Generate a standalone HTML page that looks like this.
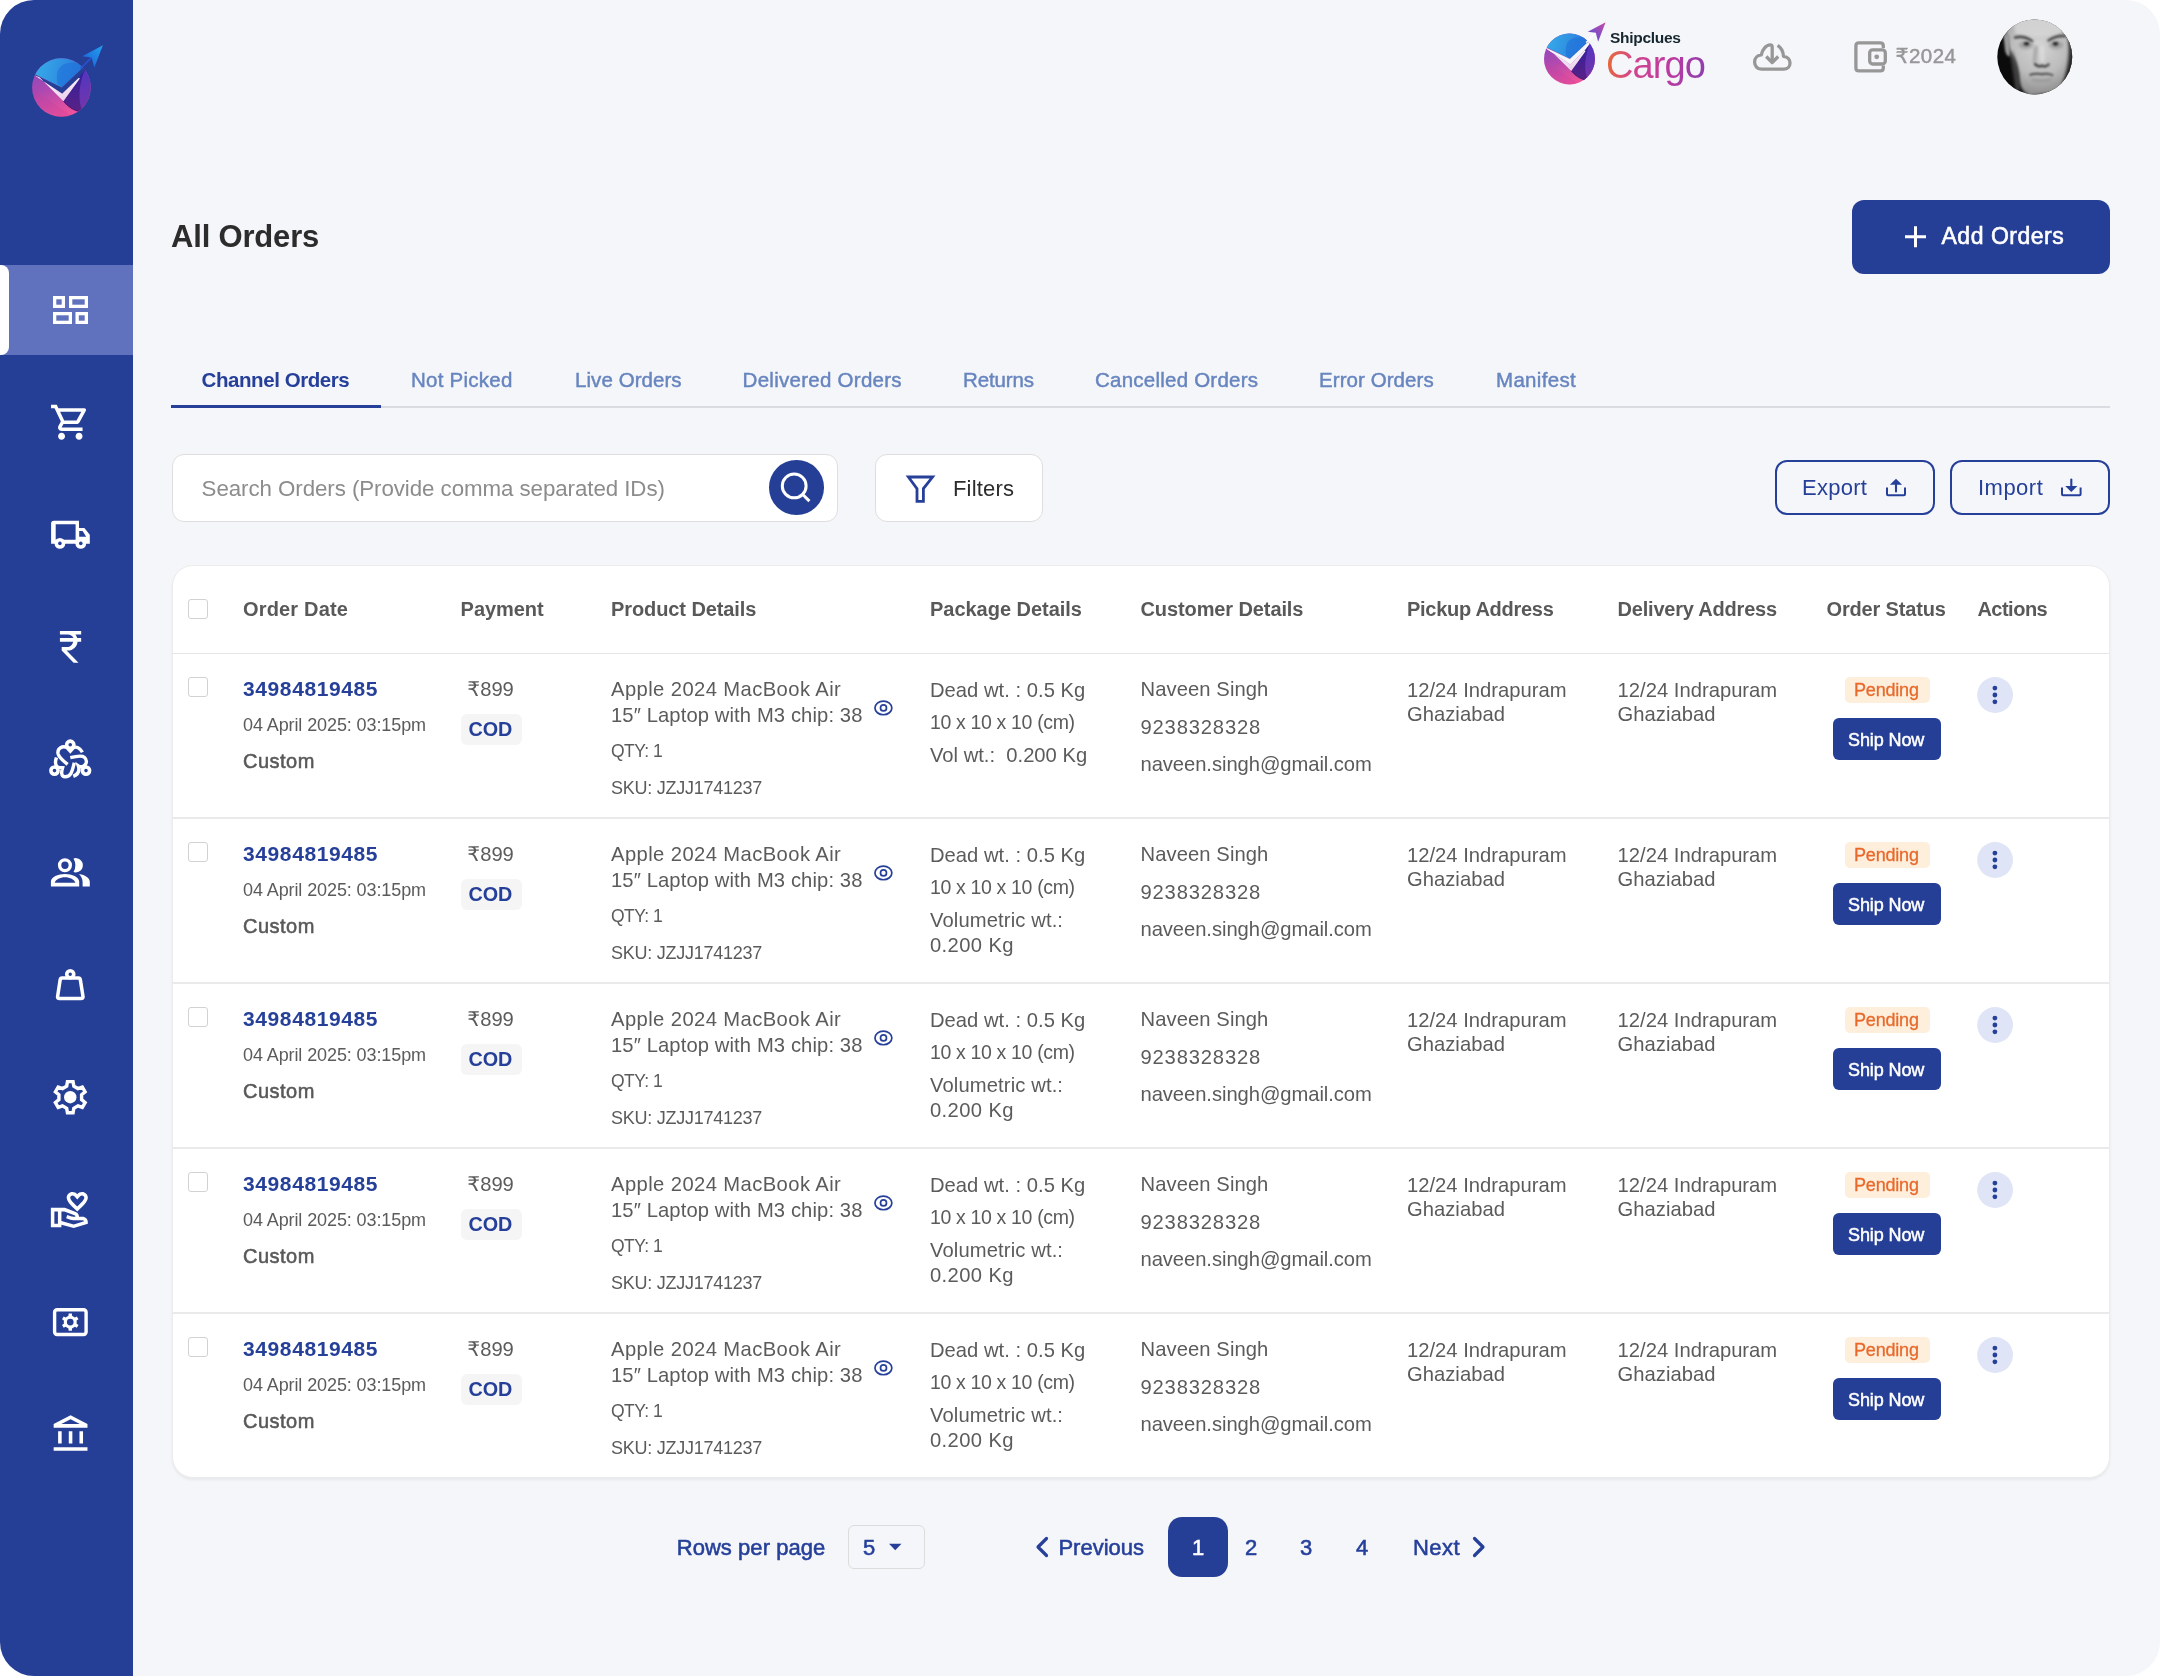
<!DOCTYPE html><html><head><meta charset="utf-8"><title>All Orders</title><style>
*{margin:0;padding:0;box-sizing:border-box}
html,body{width:2160px;height:1676px;background:#ffffff;overflow:hidden}
body{font-family:"Liberation Sans",Arial,"DejaVu Sans",sans-serif;-webkit-font-smoothing:antialiased}
.frame{will-change:transform;position:absolute;left:0;top:0;width:2160px;height:1676px;border-radius:34px;overflow:hidden;background:#F5F6FA}
.t{position:absolute;white-space:nowrap}
.sb{position:absolute;left:0;top:0}
.box{position:absolute}
.rupee{font-family:"DejaVu Sans",sans-serif}
</style></head><body><div class="frame">
<div class="box" style="left:0;top:0;width:133px;height:1676px;background:#263F96"></div>
<div class="box" style="left:0;top:265px;width:133px;height:90px;background:#6072BD"></div>
<div class="box" style="left:0;top:265px;width:9px;height:90px;background:#ffffff;border-radius:0 8px 8px 0"></div>
<svg class="sb" width="133" height="1676" viewBox="0 0 133 1676">
<rect x="54.65" y="297.65" width="8.7" height="8.7" fill="none" stroke="#ffffff" stroke-width="3.3"/>
<rect x="70.65" y="297.65" width="15.7" height="8.7" fill="none" stroke="#ffffff" stroke-width="3.3"/>
<rect x="54.65" y="313.65" width="15.7" height="8.7" fill="none" stroke="#ffffff" stroke-width="3.3"/>
<rect x="77.15" y="313.65" width="9.2" height="8.7" fill="none" stroke="#ffffff" stroke-width="3.3"/>
<g transform="translate(49.3,401.2) scale(1.75)"><path fill="#ffffff" d="M15.55 13c.75 0 1.41-.41 1.75-1.03l3.58-6.49c.37-.66-.11-1.48-.87-1.48H5.21l-.94-2H1v2h2l3.6 7.59-1.35 2.44C4.52 15.37 5.48 17 7 17h12v-2H7l1.1-2h7.45zM6.16 6h12.15l-2.76 5H8.53L6.16 6zM7 18c-1.1 0-1.99.9-1.99 2S5.9 22 7 22s2-.9 2-2-.9-2-2-2zm10 0c-1.1 0-1.99.9-1.99 2s.89 2 1.99 2 2-.9 2-2-.9-2-2-2z"/></g>
<path fill="#ffffff" fill-rule="evenodd" d="M51.1,523.6 Q51.1,520.75 53.9,520.75 H79 V527.9 H84.4 L89.8,534.7 V543.7 H51.1 Z M55.7,524.3 H75.6 V539.7 H55.7 Z M79.2,531.1 H82.6 L86.2,536.7 H79.2 Z"/>
<circle cx="59.9" cy="543.4" r="5.4" fill="#ffffff"/>
<circle cx="59.9" cy="543.4" r="1.8" fill="#26409A"/>
<circle cx="80.8" cy="543.4" r="5.4" fill="#ffffff"/>
<circle cx="80.8" cy="543.4" r="1.8" fill="#26409A"/>
<g transform="translate(49.3,625.7) scale(1.77)"><path fill="#ffffff" d="M13.66 7c-.56-1.18-1.76-2-3.16-2H6V3h12v2h-3.26c.48.58.84 1.26 1.05 2H18v2h-2.02c-.25 2.8-2.61 5-5.48 5h-.73l6.73 7h-2.77l-6.73-7V12h3c1.76 0 3.22-1.3 3.46-3H6V7h7.66z"/></g>
<g fill="none" stroke="#fff" stroke-width="3.4" stroke-linecap="butt"><path d="M82.4,752.2 C80,747.5 76,746.4 73.5,747.6 L70.3,751.2 L67,747.6 C62.5,745.3 57.3,748.2 58,753.4 C58.5,756.5 61.5,759.5 67.6,764.3"/><path d="M70.3,757.6 C75.5,756.3 81.5,754.8 84.3,757.2 C87.6,760 86.8,764.5 83.2,766.2 C81.5,767 79.5,766.6 78.3,765.8 C79.5,769.5 79.3,774 73.3,776.3"/><path d="M74.3,762.8 C72.2,770.5 71.5,776.8 65.2,776.8 C60.5,776.8 61.5,771.3 62.6,767.8 C58.5,767.7 55.5,767.2 55.5,762.5 C55.5,759.8 56.2,758.5 56.5,757.5"/></g>
<circle cx="70.25" cy="744.7" r="3.6" fill="none" stroke="#ffffff" stroke-width="3.6"/>
<circle cx="54.5" cy="770.6" r="3.6" fill="none" stroke="#ffffff" stroke-width="3.6"/>
<circle cx="86" cy="770.6" r="3.6" fill="none" stroke="#ffffff" stroke-width="3.6"/>
<path fill="#ffffff" d="M73.5,858.45 A7.15,7.15 0 1 1 73.5,872.05 A13.8,13.8 0 0 0 73.5,858.45 Z"/>
<circle cx="64.95" cy="865.25" r="5.35" fill="none" stroke="#ffffff" stroke-width="3.4"/>
<path fill="#ffffff" fill-rule="evenodd" d="M50.9,886.4 V881.5 C50.9,877 58,874 65,874 C72,874 79.2,877 79.2,881.5 V886.4 Z M54.7,882.8 C55.5,879.6 60,877.2 65,877.2 C70,877.2 74.5,879.6 75.4,882.8 Z"/>
<path fill="#ffffff" d="M79,874 C85.5,875 89.8,878 89.8,882 V886.4 H82.6 V882 C82.6,879 81.2,876 79,874 Z"/>
<circle cx="70.25" cy="974.3" r="3.5" fill="none" stroke="#ffffff" stroke-width="3.6"/>
<path fill="none" stroke="#ffffff" stroke-width="3.5" stroke-linejoin="round" d="M62,977.9 H78.5 Q80,977.9 80.3,979.5 L83,996.5 Q83.3,998.6 81,998.6 H59.5 Q57.3,998.6 57.6,996.5 L60.2,979.5 Q60.5,977.9 62,977.9 Z"/>
<path fill="none" stroke="#ffffff" stroke-width="3.4" stroke-linejoin="miter" d="M66.67,1086.17 L67.45,1081.65 L73.05,1081.65 L73.83,1086.17 L78.01,1088.58 L82.32,1087.00 L85.12,1091.85 L81.60,1094.79 L81.60,1099.61 L85.12,1102.55 L82.32,1107.40 L78.01,1105.82 L73.83,1108.23 L73.05,1112.75 L67.45,1112.75 L66.67,1108.23 L62.49,1105.82 L58.18,1107.40 L55.38,1102.55 L58.90,1099.61 L58.90,1094.79 L55.38,1091.85 L58.18,1087.00 L62.49,1088.58 Z"/>
<circle cx="70.25" cy="1097.2" r="6.2" fill="#ffffff"/>
<g transform="translate(49.1,1188.5) scale(1.76)"><path fill="#ffffff" d="M16 13c3.09-2.81 6-5.44 6-7.7C22 3.45 20.55 2 18.7 2c-1.04 0-2.05.49-2.7 1.25C15.34 2.49 14.34 2 13.3 2 11.45 2 10 3.45 10 5.3c0 2.26 2.91 4.89 6 7.7zm-2.7-9c.44 0 .89.21 1.18.55L16 6.29l1.52-1.74c.29-.34.74-.55 1.18-.55.74 0 1.3.56 1.3 1.3 0 1.12-2.04 3.17-4 4.99-1.96-1.82-4-3.88-4-4.99 0-.74.56-1.3 1.3-1.3zM19 16h-2c0-1.2-.75-2.28-1.87-2.7L8.97 11H1v11h6v-1.44l7 1.94 8-2.5v-1c0-1.66-1.34-3-3-3zM3 20v-7h2v7H3zm10.97.41L7 18.48V13h1.61l5.82 2.17c.34.13.57.46.57.83 0 0-1.99-.05-2.3-.15l-2.38-.79-.63 1.9 2.38.79c.51.17 1.04.26 1.58.26H19c.39 0 .74.23.9.56l-5.93 1.84z"/></g>
<rect x="54.6" y="1309.8" width="31.5" height="24.7" rx="2.5" fill="none" stroke="#ffffff" stroke-width="3.4"/>
<path fill="#ffffff" fill-rule="evenodd" d="M68.48,1315.74 L68.62,1313.55 L71.88,1313.55 L72.02,1315.74 L74.87,1317.38 L76.84,1316.42 L78.47,1319.24 L76.64,1320.46 L76.64,1323.74 L78.47,1324.96 L76.84,1327.78 L74.87,1326.82 L72.02,1328.46 L71.88,1330.65 L68.62,1330.65 L68.48,1328.46 L65.63,1326.82 L63.66,1327.78 L62.03,1324.96 L63.86,1323.74 L63.86,1320.46 L62.03,1319.24 L63.66,1316.42 L65.63,1317.38 Z M73.6,1322.1 A3.35,3.35 0 1 0 66.9,1322.1 A3.35,3.35 0 1 0 73.6,1322.1 Z"/>
<g transform="translate(50.1,1413.5) scale(1.78 1.77)"><path fill="#ffffff" d="M6.5 10h-2v7h2v-7zm6 0h-2v7h2v-7zm8.5 9H2v2h19v-2zm-2.5-9h-2v7h2v-7zm-7-6.74L16.71 6H6.29l5.21-2.74m0-2.26L2 6v2h19V6l-9.5-5z"/></g>
</svg>
<svg style="position:absolute;left:25px;top:38px" width="85" height="85" viewBox="25 38 85 85">
<defs>
<clipPath id="lg1c"><circle cx="61.4" cy="87.5" r="29.3"/></clipPath>
<linearGradient id="lg1lo" x1="0" y1="0" x2="0.45" y2="1"><stop offset="0" stop-color="#7a48c6"/><stop offset="0.5" stop-color="#a948b2"/><stop offset="1" stop-color="#f0529a"/></linearGradient>
<linearGradient id="lg1up" x1="0" y1="0.4" x2="1" y2="0.6"><stop offset="0" stop-color="#38b4ec"/><stop offset="0.55" stop-color="#2f8de0"/><stop offset="1" stop-color="#2a6fd6"/></linearGradient>
<linearGradient id="lg1rt" x1="0" y1="0" x2="0" y2="1"><stop offset="0" stop-color="#4536c8"/><stop offset="1" stop-color="#7a35a6"/></linearGradient>
<linearGradient id="lg1wg" x1="0" y1="0" x2="0" y2="1"><stop offset="0" stop-color="#2a1ea6"/><stop offset="1" stop-color="#5a2284"/></linearGradient>
<linearGradient id="lg1ar" x1="0" y1="1" x2="1" y2="0"><stop offset="0" stop-color="#1c5ad6"/><stop offset="1" stop-color="#22a3ef"/></linearGradient>
<linearGradient id="lg1wv" x1="0" y1="0" x2="0.2" y2="1"><stop offset="0" stop-color="#ffffff"/><stop offset="1" stop-color="#ead2ec"/></linearGradient>
</defs>
<g transform="translate(61.4,87.5) scale(1.0) translate(-61.4,-87.5)">
<g clip-path="url(#lg1c)">
<rect x="30" y="55" width="64" height="64" fill="url(#lg1lo)"/>
<path d="M30,88 L75,118 L60,120 L30,100 Z" fill="#c43c9c" opacity="0.25"/>
<polygon points="28,40 28,74.2 35.8,74.4 61.8,87.6 88.2,62.8 96,55 96,40" fill="url(#lg1up)"/>
<path d="M57.5,83.5 C55,70 60,63 72,62.5 L86,62 L86.5,64.5 L61.8,87.6 Z" fill="#1d6ed8" opacity="0.55"/>
<path d="M63.4,101.2 L88.2,62.8 L96,55 L96,118 L86,113 C76,112 69,108 63.4,101.2 Z" fill="url(#lg1rt)"/>
<path d="M63.4,101.2 L88.6,62.5 C83,72 79.5,84 79.5,96 C79.5,104 81,109 84,112 C76,112 69,108 63.4,101.2 Z" fill="url(#lg1wg)"/>
<path d="M63.4,101.2 C69,108 76,112 84,112" fill="none" stroke="#3c1460" stroke-width="1" opacity="0.6"/>
<polygon points="34,74.3 61.8,87.6 88.2,62.8 89.6,63.6 78.6,77.9 62.2,93.8 34,75.0" fill="#263F96"/>
<polygon points="34,75.0 62.2,93.8 78.6,77.9 80.0,78.2 63.4,101.2 39.7,77.6" fill="url(#lg1wv)"/>
</g>
<path d="M80.5,68.5 L92.4,56.6" stroke="#2a52d0" stroke-width="1.6"/>
<polygon points="102.9,45.2 82.4,56.3 91.6,57.4 94.3,67.6" fill="url(#lg1ar)"/>
</g></svg>
<svg style="position:absolute;left:1538px;top:18px" width="72" height="72" viewBox="1538 18 72 72">
<defs>
<clipPath id="lg2c"><circle cx="61.4" cy="87.5" r="29.3"/></clipPath>
<linearGradient id="lg2lo" x1="0" y1="0" x2="0.45" y2="1"><stop offset="0" stop-color="#7a48c6"/><stop offset="0.5" stop-color="#a948b2"/><stop offset="1" stop-color="#f0529a"/></linearGradient>
<linearGradient id="lg2up" x1="0" y1="0.4" x2="1" y2="0.6"><stop offset="0" stop-color="#38b4ec"/><stop offset="0.55" stop-color="#2f8de0"/><stop offset="1" stop-color="#2a6fd6"/></linearGradient>
<linearGradient id="lg2rt" x1="0" y1="0" x2="0" y2="1"><stop offset="0" stop-color="#4536c8"/><stop offset="1" stop-color="#7a35a6"/></linearGradient>
<linearGradient id="lg2wg" x1="0" y1="0" x2="0" y2="1"><stop offset="0" stop-color="#2a1ea6"/><stop offset="1" stop-color="#5a2284"/></linearGradient>
<linearGradient id="lg2ar" x1="0" y1="1" x2="1" y2="0"><stop offset="0" stop-color="#4a50d8"/><stop offset="1" stop-color="#c94aa8"/></linearGradient>
<linearGradient id="lg2wv" x1="0" y1="0" x2="0.2" y2="1"><stop offset="0" stop-color="#ffffff"/><stop offset="1" stop-color="#ead2ec"/></linearGradient>
</defs>
<g transform="translate(1569.5,59.0) scale(0.87) translate(-61.4,-87.5)">
<g clip-path="url(#lg2c)">
<rect x="30" y="55" width="64" height="64" fill="url(#lg2lo)"/>
<path d="M30,88 L75,118 L60,120 L30,100 Z" fill="#c43c9c" opacity="0.25"/>
<polygon points="28,40 28,74.2 35.8,74.4 61.8,87.6 88.2,62.8 96,55 96,40" fill="url(#lg2up)"/>
<path d="M57.5,83.5 C55,70 60,63 72,62.5 L86,62 L86.5,64.5 L61.8,87.6 Z" fill="#1d6ed8" opacity="0.55"/>
<path d="M63.4,101.2 L88.2,62.8 L96,55 L96,118 L86,113 C76,112 69,108 63.4,101.2 Z" fill="url(#lg2rt)"/>
<path d="M63.4,101.2 L88.6,62.5 C83,72 79.5,84 79.5,96 C79.5,104 81,109 84,112 C76,112 69,108 63.4,101.2 Z" fill="url(#lg2wg)"/>
<path d="M63.4,101.2 C69,108 76,112 84,112" fill="none" stroke="#3c1460" stroke-width="1" opacity="0.6"/>
<polygon points="34,74.3 61.8,87.6 88.2,62.8 89.6,63.6 78.6,77.9 62.2,93.8 34,75.0" fill="#F5F6FA"/>
<polygon points="34,75.0 62.2,93.8 78.6,77.9 80.0,78.2 63.4,101.2 39.7,77.6" fill="url(#lg2wv)"/>
</g>
<path d="M80.5,68.5 L92.4,56.6" stroke="#ffffff" stroke-width="1.6"/>
<polygon points="102.9,45.2 82.4,56.3 91.6,57.4 94.3,67.6" fill="url(#lg2ar)"/>
</g></svg>
<div class="t" style="left:1610.00px;top:29.88px;font-size:15.5px;line-height:15.5px;color:#15262e;font-weight:700;letter-spacing:-0.284px;">Shipclues</div>
<div class="t" style="left:1606.00px;top:38.83px;font-size:38px;line-height:52px;color:#c0399f;letter-spacing:-0.91px;background:linear-gradient(100deg,#ec6f2a 0%,#d0458f 30%,#c0399f 60%,#8a3fb0 100%);-webkit-background-clip:text;background-clip:text;-webkit-text-fill-color:transparent;">Cargo</div>
<svg style="position:absolute;left:1748px;top:38px" width="48" height="38" viewBox="1748 38 48 38"><g fill="none" stroke="#979797" stroke-width="3.3" stroke-linejoin="round"><path d="M1777.6,45.4 C1781.2,47.6 1783.2,51.5 1783.5,56.3 C1787.2,56.6 1790,59.5 1790,63.2 C1790,66.9 1787.2,69.2 1783.8,69.2 H1761.5 C1757.3,69.2 1754.6,65.8 1754.6,62 C1754.6,58 1757.5,55.2 1761.3,54.9 C1762.3,49.5 1766.2,44.9 1770.2,44.9 C1771.5,44.9 1772.2,45.7 1772.2,47.2 V62.3"/><path d="M1766.2,56.5 L1772.2,62.5 L1778.2,56.5"/></g></svg>
<svg style="position:absolute;left:1850px;top:38px" width="42" height="38" viewBox="1850 38 42 38"><g fill="none" stroke="#979797" stroke-width="3.3"><path d="M1883.3,48.1 V45.9 Q1883.3,42.9 1880.3,42.9 H1858.9 Q1855.9,42.9 1855.9,45.9 V67.9 Q1855.9,70.9 1858.9,70.9 H1880.3 Q1883.3,70.9 1883.3,67.9 V65.6"/><rect x="1869.7" y="49.8" width="15.6" height="14.2" rx="3"/></g><circle cx="1876.7" cy="56.8" r="2.4" fill="#979797"/></svg>
<div class="t" style="left:1895.60px;top:46.05px;font-size:20.5px;line-height:20.5px;color:#979797;-webkit-text-stroke:0.45px #979797;letter-spacing:0.4px;"><span class="rupee">₹</span>2024</div>
<svg style="position:absolute;left:1996px;top:18px" width="78" height="78" viewBox="1996 18 78 78">
<defs>
<clipPath id="avc"><circle cx="2034.75" cy="56.95" r="37.45"/></clipPath>
<filter id="avb" filterUnits="userSpaceOnUse" x="1990" y="12" width="90" height="90"><feGaussianBlur stdDeviation="1.6"/></filter>
<filter id="avb2" filterUnits="userSpaceOnUse" x="1990" y="12" width="90" height="90"><feGaussianBlur stdDeviation="0.9"/></filter>
<radialGradient id="avf" cx="0.5" cy="0.35" r="0.65"><stop offset="0" stop-color="#d4d4d4"/><stop offset="0.6" stop-color="#bcbcbc"/><stop offset="1" stop-color="#8a8a8a"/></radialGradient>
</defs>
<g clip-path="url(#avc)">
<rect x="1996" y="18" width="78" height="78" fill="#0b0b0b"/>
<path filter="url(#avb)" fill="url(#avf)" d="M2004,18 L2074,18 L2074,50 C2073,62 2068,80 2058,92 L2030,96 C2022,92 2019,85 2019,76 C2018,68 2016,60 2012,55 C2008,48 2006,36 2004,18 Z"/>
<path filter="url(#avb)" fill="#d6d6d6" d="M2012,18 L2066,18 C2068,26 2064,34 2050,36 C2040,37 2028,37 2016,34 Z" opacity="0.8"/>
<path filter="url(#avb2)" fill="#9a9a9a" d="M2003.5,36 C2006,32 2009.5,33 2010,38 L2010,56 C2008,57 2006,55 2005,50 Z"/>
<path filter="url(#avb)" fill="#1a1a1a" d="M2066,30 C2071,45 2070,70 2058,94 L2078,98 L2078,30 Z" opacity="0.9"/>
<path filter="url(#avb)" fill="#555" d="M2012,50 C2016,58 2019,70 2020,90 L2016,92 C2014,80 2012,65 2010,55 Z" opacity="0.7"/>
<path filter="url(#avb2)" stroke="#4a4a4a" stroke-width="2.6" fill="none" stroke-linecap="round" d="M2015,37.5 C2021,36 2027,37.5 2032,41"/>
<path filter="url(#avb2)" stroke="#4a4a4a" stroke-width="2.6" fill="none" stroke-linecap="round" d="M2048.5,40.5 C2053,37.5 2059,35.5 2065.5,36"/>
<ellipse filter="url(#avb)" cx="2026" cy="45" rx="7" ry="4" fill="#8e8e8e" opacity="0.7"/>
<ellipse filter="url(#avb)" cx="2056" cy="45" rx="7" ry="4" fill="#8e8e8e" opacity="0.7"/>
<ellipse filter="url(#avb2)" cx="2026.5" cy="43.8" rx="2.8" ry="1.8" fill="#1e1e1e"/>
<ellipse filter="url(#avb2)" cx="2055.5" cy="43.8" rx="2.8" ry="1.8" fill="#1e1e1e"/>
<path filter="url(#avb2)" stroke="#3a3a3a" stroke-width="2.2" fill="none" d="M2034.5,63 C2036,66.5 2040,67 2042,65.8 C2044,67 2048,66.5 2049,63.5"/>
<path filter="url(#avb)" fill="#8c8c8c" d="M2034,46 L2038,46 L2036,62 L2033,62 Z" opacity="0.6"/>
<path filter="url(#avb)" fill="#e2e2e2" d="M2040,46 L2044,46 L2045,62 L2040,62 Z" opacity="0.6"/>
<path filter="url(#avb2)" stroke="#4a4a4a" stroke-width="2.0" fill="none" d="M2029.5,75 C2035,73.3 2040,73.8 2042,74.2 C2045,73.6 2050,74 2053,75.4"/>
<path filter="url(#avb)" fill="#7a7a7a" d="M2031,78.5 C2037,80 2047,80 2052,78.5 L2051,80.5 C2045,82 2037,82 2032,80.5 Z" opacity="0.6"/>
</g></svg>
<div class="t" style="left:171.00px;top:220.76px;font-size:31px;line-height:31px;color:#2c2c2c;font-weight:700;letter-spacing:-0.178px;">All Orders</div>
<div class="box" style="left:1852px;top:200px;width:258px;height:74px;background:#263F96;border-radius:12px"></div>
<svg style="position:absolute;left:1900px;top:222px" width="32" height="32" viewBox="1900 222 32 32"><path d="M1905,236.8 H1926 M1915.5,226.3 V247.3" stroke="#fff" stroke-width="3" fill="none"/></svg>
<div class="t" style="left:1941.50px;top:224.93px;font-size:23px;line-height:23px;color:#ffffff;-webkit-text-stroke:0.6px #ffffff;letter-spacing:0.522px;">Add Orders</div>
<div class="box" style="left:171px;top:406px;width:1939px;height:1.6px;background:#dadbe0"></div>
<div class="box" style="left:171px;top:405px;width:210px;height:3px;background:#26409A"></div>
<div class="t" style="left:201.60px;top:370.15px;font-size:20.5px;line-height:20.5px;color:#26409A;font-weight:700;letter-spacing:-0.436px;">Channel Orders</div>
<div class="t" style="left:411.00px;top:370.15px;font-size:20.5px;line-height:20.5px;color:#6785bf;letter-spacing:0.244px;-webkit-text-stroke:0.45px #6785bf;">Not Picked</div>
<div class="t" style="left:575.00px;top:370.15px;font-size:20.5px;line-height:20.5px;color:#6785bf;letter-spacing:0.065px;-webkit-text-stroke:0.45px #6785bf;">Live Orders</div>
<div class="t" style="left:742.60px;top:370.15px;font-size:20.5px;line-height:20.5px;color:#6785bf;letter-spacing:0.271px;-webkit-text-stroke:0.45px #6785bf;">Delivered Orders</div>
<div class="t" style="left:963.00px;top:370.15px;font-size:20.5px;line-height:20.5px;color:#6785bf;letter-spacing:-0.129px;-webkit-text-stroke:0.45px #6785bf;">Returns</div>
<div class="t" style="left:1095.00px;top:370.15px;font-size:20.5px;line-height:20.5px;color:#6785bf;letter-spacing:0.233px;-webkit-text-stroke:0.45px #6785bf;">Cancelled Orders</div>
<div class="t" style="left:1319.00px;top:370.15px;font-size:20.5px;line-height:20.5px;color:#6785bf;letter-spacing:0.073px;-webkit-text-stroke:0.45px #6785bf;">Error Orders</div>
<div class="t" style="left:1496.00px;top:370.15px;font-size:20.5px;line-height:20.5px;color:#6785bf;letter-spacing:0.312px;-webkit-text-stroke:0.45px #6785bf;">Manifest</div>
<div class="box" style="left:172px;top:453.5px;width:666px;height:68px;background:#fff;border:1.5px solid #dedede;border-radius:12px"></div>
<div class="t" style="left:201.60px;top:477.52px;font-size:22.3px;line-height:22.3px;color:#8c8c8c;letter-spacing:-0.062px;">Search Orders (Provide comma separated IDs)</div>
<div class="box" style="left:769px;top:460px;width:54.6px;height:54.6px;background:#263F96;border-radius:50%"></div>
<svg style="position:absolute;left:776px;top:468px" width="40" height="40" viewBox="776 468 40 40"><circle cx="794.2" cy="485.9" r="11.9" fill="none" stroke="#fff" stroke-width="3"/><path d="M803,494.7 L809.4,501.1" stroke="#fff" stroke-width="3" stroke-linecap="butt"/></svg>
<div class="box" style="left:875px;top:453.5px;width:168.3px;height:68px;background:#fff;border:1.5px solid #dedede;border-radius:12px"></div>
<svg style="position:absolute;left:904px;top:472px" width="34" height="34" viewBox="904 472 34 34"><path d="M908.4,477 H932.6 L923.4,488.6 V501.4 H917 V488.6 Z" fill="none" stroke="#26409A" stroke-width="2.8" stroke-linejoin="miter"/></svg>
<div class="t" style="left:953.00px;top:478.18px;font-size:22px;line-height:22px;color:#2c2c2c;letter-spacing:0.186px;">Filters</div>
<div class="box" style="left:1774.5px;top:460px;width:160px;height:55px;border:2px solid #26409A;border-radius:12px"></div>
<div class="t" style="left:1802.00px;top:477.38px;font-size:22px;line-height:22px;color:#26409A;letter-spacing:0.274px;">Export</div>
<div class="box" style="left:1950px;top:460px;width:160px;height:55px;border:2px solid #26409A;border-radius:12px"></div>
<div class="t" style="left:1978.00px;top:477.38px;font-size:22px;line-height:22px;color:#26409A;letter-spacing:0.482px;">Import</div>
<svg style="position:absolute;left:1882px;top:474px" width="28" height="27" viewBox="1882 474 28 27"><path d="M1887,487.6 V494.3 Q1887,495.2 1888,495.2 H1904 Q1905,495.2 1905,494.3 V487.6" fill="none" stroke="#26409A" stroke-width="2"/><path d="M1896,491.5 V483.5" stroke="#26409A" stroke-width="2.1" stroke-linecap="round"/><path d="M1889.9,484.8 L1896,478.8 L1902.1,484.8 Z" fill="#26409A"/></svg>
<svg style="position:absolute;left:2057px;top:474px" width="28" height="27" viewBox="2057 474 28 27"><path d="M2062,487.6 V494.3 Q2062,495.2 2063,495.2 H2079.6 Q2080.6,495.2 2080.6,494.3 V487.6" fill="none" stroke="#26409A" stroke-width="2"/><path d="M2071.3,479.5 V487" stroke="#26409A" stroke-width="2.1" stroke-linecap="round"/><path d="M2065.2,485.9 L2071.3,491.9 L2077.4,485.9 Z" fill="#26409A"/></svg>
<div class="box" style="left:171.5px;top:565px;width:1938px;height:913px;background:#fff;border:1px solid #ececec;border-radius:21px;box-shadow:0 2px 3px rgba(0,0,0,0.06)"></div>
<div class="box" style="left:188px;top:599px;width:20px;height:20px;border:1.3px solid #d2d2d2;border-radius:3px;background:#fff"></div>
<div class="t" style="left:243.00px;top:598.87px;font-size:20px;line-height:20px;color:#595959;font-weight:700;letter-spacing:0.173px;">Order Date</div>
<div class="t" style="left:460.60px;top:598.87px;font-size:20px;line-height:20px;color:#595959;font-weight:700;letter-spacing:-0.051px;">Payment</div>
<div class="t" style="left:611.00px;top:598.87px;font-size:20px;line-height:20px;color:#595959;font-weight:700;letter-spacing:-0.091px;">Product Details</div>
<div class="t" style="left:930.00px;top:598.87px;font-size:20px;line-height:20px;color:#595959;font-weight:700;letter-spacing:-0.027px;">Package Details</div>
<div class="t" style="left:1140.50px;top:598.87px;font-size:20px;line-height:20px;color:#595959;font-weight:700;letter-spacing:-0.104px;">Customer Details</div>
<div class="t" style="left:1407.00px;top:598.87px;font-size:20px;line-height:20px;color:#595959;font-weight:700;letter-spacing:-0.279px;">Pickup Address</div>
<div class="t" style="left:1617.60px;top:598.87px;font-size:20px;line-height:20px;color:#595959;font-weight:700;letter-spacing:-0.212px;">Delivery Address</div>
<div class="t" style="left:1826.50px;top:598.87px;font-size:20px;line-height:20px;color:#595959;font-weight:700;letter-spacing:-0.156px;">Order Status</div>
<div class="t" style="left:1977.40px;top:598.87px;font-size:20px;line-height:20px;color:#595959;font-weight:700;letter-spacing:-0.502px;">Actions</div>
<div class="box" style="left:172px;top:652.5px;width:1937px;height:1.5px;background:#e6e6e6"></div><div class="box" style="left:188px;top:677px;width:20px;height:20px;border:1.3px solid #d2d2d2;border-radius:3px;background:#fff"></div>
<div class="t" style="left:243.00px;top:678.42px;font-size:21px;line-height:21px;color:#26409A;font-weight:700;letter-spacing:0.606px;">34984819485</div>
<div class="t" style="left:243.00px;top:716.16px;font-size:18px;line-height:18px;color:#5b5b5b;letter-spacing:-0.098px;">04 April 2025: 03:15pm</div>
<div class="t" style="left:243.00px;top:751.37px;font-size:20px;line-height:20px;color:#585858;-webkit-text-stroke:0.55px #585858;letter-spacing:0.491px;">Custom</div>
<div class="t" style="left:467.30px;top:678.90px;font-size:20.2px;line-height:20.2px;color:#5b5b5b;"><span class="rupee">₹</span>899</div>
<div class="box" style="left:460.6px;top:713.8px;width:61.3px;height:31px;background:#f5f5f6;border-radius:6px"></div>
<div class="t" style="left:468.40px;top:719.84px;font-size:19.8px;line-height:19.8px;color:#26409A;font-weight:700;letter-spacing:0.022px;">COD</div>
<div class="t" style="left:611.00px;top:679.10px;font-size:20.2px;line-height:20.2px;color:#5b5b5b;letter-spacing:0.416px;">Apple 2024 MacBook Air</div>
<div class="t" style="left:611.00px;top:704.80px;font-size:20.2px;line-height:20.2px;color:#5b5b5b;letter-spacing:0.114px;">15″ Laptop with M3 chip: 38</div>
<svg style="position:absolute;left:872px;top:698px" width="23" height="20" viewBox="872 698 23 20"><ellipse cx="883.4" cy="707.9" rx="8.45" ry="6.85" fill="none" stroke="#26409A" stroke-width="1.7"/><circle cx="883.5" cy="707.9" r="3.0" fill="none" stroke="#26409A" stroke-width="1.7"/></svg>
<div class="t" style="left:611.00px;top:743.19px;font-size:17.5px;line-height:17.5px;color:#5b5b5b;letter-spacing:-0.559px;">QTY: 1</div>
<div class="t" style="left:611.00px;top:778.76px;font-size:18px;line-height:18px;color:#5b5b5b;letter-spacing:-0.263px;">SKU: JZJJ1741237</div>
<div class="t" style="left:930.00px;top:679.70px;font-size:20.2px;line-height:20.2px;color:#5b5b5b;letter-spacing:0.024px;">Dead wt. : 0.5 Kg</div>
<div class="t" style="left:930.00px;top:712.89px;font-size:19.5px;line-height:19.5px;color:#5b5b5b;letter-spacing:-0.348px;">10 x 10 x 10 (cm)</div>
<div class="t" style="left:930.00px;top:745.40px;font-size:20.2px;line-height:20.2px;color:#5b5b5b;">Vol wt.:&nbsp; 0.200 Kg</div>
<div class="t" style="left:1140.50px;top:678.90px;font-size:20.2px;line-height:20.2px;color:#5b5b5b;letter-spacing:0.093px;">Naveen Singh</div>
<div class="t" style="left:1140.50px;top:716.70px;font-size:20.2px;line-height:20.2px;color:#5b5b5b;letter-spacing:0.832px;">9238328328</div>
<div class="t" style="left:1140.50px;top:753.90px;font-size:20.2px;line-height:20.2px;color:#5b5b5b;letter-spacing:-0.06px;">naveen.singh@gmail.com</div>
<div class="t" style="left:1407.00px;top:679.70px;font-size:20.2px;line-height:20.2px;color:#5b5b5b;letter-spacing:0.014px;">12/24 Indrapuram</div>
<div class="t" style="left:1407.00px;top:703.90px;font-size:20.2px;line-height:20.2px;color:#5b5b5b;letter-spacing:0.028px;">Ghaziabad</div>
<div class="t" style="left:1617.60px;top:679.70px;font-size:20.2px;line-height:20.2px;color:#5b5b5b;letter-spacing:0.014px;">12/24 Indrapuram</div>
<div class="t" style="left:1617.60px;top:703.90px;font-size:20.2px;line-height:20.2px;color:#5b5b5b;letter-spacing:0.028px;">Ghaziabad</div>
<div class="box" style="left:1844.5px;top:676.8px;width:85px;height:26.2px;background:#FEEEDC;border-radius:5px"></div>
<div class="t" style="left:1854.00px;top:681.16px;font-size:18px;line-height:18px;color:#E8692B;-webkit-text-stroke:0.3px #E8692B;letter-spacing:-0.187px;">Pending</div>
<div class="box" style="left:1833px;top:718.4px;width:107.6px;height:42px;background:#263F96;border-radius:6px"></div>
<div class="t" style="left:1848.00px;top:730.76px;font-size:18px;line-height:18px;color:#ffffff;-webkit-text-stroke:0.5px #ffffff;letter-spacing:-0.096px;">Ship Now</div>
<svg style="position:absolute;left:1976px;top:675.5px" width="38" height="38" viewBox="1976 675.5 38 38"><circle cx="1995.1" cy="694.5" r="17.9" fill="#DFE4F6"/><circle cx="1994.9" cy="687.6" r="2.4" fill="#26409A"/><circle cx="1994.9" cy="694.5" r="2.4" fill="#26409A"/><circle cx="1994.9" cy="701.3" r="2.4" fill="#26409A"/></svg>
<div class="box" style="left:172px;top:817.3px;width:1937px;height:1.5px;background:#eaeaea"></div>
<div class="box" style="left:188px;top:842px;width:20px;height:20px;border:1.3px solid #d2d2d2;border-radius:3px;background:#fff"></div>
<div class="t" style="left:243.00px;top:843.42px;font-size:21px;line-height:21px;color:#26409A;font-weight:700;letter-spacing:0.606px;">34984819485</div>
<div class="t" style="left:243.00px;top:881.16px;font-size:18px;line-height:18px;color:#5b5b5b;letter-spacing:-0.098px;">04 April 2025: 03:15pm</div>
<div class="t" style="left:243.00px;top:916.37px;font-size:20px;line-height:20px;color:#585858;-webkit-text-stroke:0.55px #585858;letter-spacing:0.491px;">Custom</div>
<div class="t" style="left:467.30px;top:843.90px;font-size:20.2px;line-height:20.2px;color:#5b5b5b;"><span class="rupee">₹</span>899</div>
<div class="box" style="left:460.6px;top:878.8px;width:61.3px;height:31px;background:#f5f5f6;border-radius:6px"></div>
<div class="t" style="left:468.40px;top:884.84px;font-size:19.8px;line-height:19.8px;color:#26409A;font-weight:700;letter-spacing:0.022px;">COD</div>
<div class="t" style="left:611.00px;top:844.10px;font-size:20.2px;line-height:20.2px;color:#5b5b5b;letter-spacing:0.416px;">Apple 2024 MacBook Air</div>
<div class="t" style="left:611.00px;top:869.80px;font-size:20.2px;line-height:20.2px;color:#5b5b5b;letter-spacing:0.114px;">15″ Laptop with M3 chip: 38</div>
<svg style="position:absolute;left:872px;top:863px" width="23" height="20" viewBox="872 863 23 20"><ellipse cx="883.4" cy="872.9" rx="8.45" ry="6.85" fill="none" stroke="#26409A" stroke-width="1.7"/><circle cx="883.5" cy="872.9" r="3.0" fill="none" stroke="#26409A" stroke-width="1.7"/></svg>
<div class="t" style="left:611.00px;top:908.19px;font-size:17.5px;line-height:17.5px;color:#5b5b5b;letter-spacing:-0.559px;">QTY: 1</div>
<div class="t" style="left:611.00px;top:943.76px;font-size:18px;line-height:18px;color:#5b5b5b;letter-spacing:-0.263px;">SKU: JZJJ1741237</div>
<div class="t" style="left:930.00px;top:844.70px;font-size:20.2px;line-height:20.2px;color:#5b5b5b;letter-spacing:0.024px;">Dead wt. : 0.5 Kg</div>
<div class="t" style="left:930.00px;top:877.89px;font-size:19.5px;line-height:19.5px;color:#5b5b5b;letter-spacing:-0.348px;">10 x 10 x 10 (cm)</div>
<div class="t" style="left:930.00px;top:910.40px;font-size:20.2px;line-height:20.2px;color:#5b5b5b;letter-spacing:0.122px;">Volumetric wt.:</div>
<div class="t" style="left:930.00px;top:935.30px;font-size:20.2px;line-height:20.2px;color:#5b5b5b;letter-spacing:0.38px;">0.200 Kg</div>
<div class="t" style="left:1140.50px;top:843.90px;font-size:20.2px;line-height:20.2px;color:#5b5b5b;letter-spacing:0.093px;">Naveen Singh</div>
<div class="t" style="left:1140.50px;top:881.70px;font-size:20.2px;line-height:20.2px;color:#5b5b5b;letter-spacing:0.832px;">9238328328</div>
<div class="t" style="left:1140.50px;top:918.90px;font-size:20.2px;line-height:20.2px;color:#5b5b5b;letter-spacing:-0.06px;">naveen.singh@gmail.com</div>
<div class="t" style="left:1407.00px;top:844.70px;font-size:20.2px;line-height:20.2px;color:#5b5b5b;letter-spacing:0.014px;">12/24 Indrapuram</div>
<div class="t" style="left:1407.00px;top:868.90px;font-size:20.2px;line-height:20.2px;color:#5b5b5b;letter-spacing:0.028px;">Ghaziabad</div>
<div class="t" style="left:1617.60px;top:844.70px;font-size:20.2px;line-height:20.2px;color:#5b5b5b;letter-spacing:0.014px;">12/24 Indrapuram</div>
<div class="t" style="left:1617.60px;top:868.90px;font-size:20.2px;line-height:20.2px;color:#5b5b5b;letter-spacing:0.028px;">Ghaziabad</div>
<div class="box" style="left:1844.5px;top:841.8px;width:85px;height:26.2px;background:#FEEEDC;border-radius:5px"></div>
<div class="t" style="left:1854.00px;top:846.16px;font-size:18px;line-height:18px;color:#E8692B;-webkit-text-stroke:0.3px #E8692B;letter-spacing:-0.187px;">Pending</div>
<div class="box" style="left:1833px;top:883.4px;width:107.6px;height:42px;background:#263F96;border-radius:6px"></div>
<div class="t" style="left:1848.00px;top:895.76px;font-size:18px;line-height:18px;color:#ffffff;-webkit-text-stroke:0.5px #ffffff;letter-spacing:-0.096px;">Ship Now</div>
<svg style="position:absolute;left:1976px;top:840.5px" width="38" height="38" viewBox="1976 840.5 38 38"><circle cx="1995.1" cy="859.5" r="17.9" fill="#DFE4F6"/><circle cx="1994.9" cy="852.6" r="2.4" fill="#26409A"/><circle cx="1994.9" cy="859.5" r="2.4" fill="#26409A"/><circle cx="1994.9" cy="866.3" r="2.4" fill="#26409A"/></svg>
<div class="box" style="left:172px;top:982.3px;width:1937px;height:1.5px;background:#eaeaea"></div>
<div class="box" style="left:188px;top:1007px;width:20px;height:20px;border:1.3px solid #d2d2d2;border-radius:3px;background:#fff"></div>
<div class="t" style="left:243.00px;top:1008.42px;font-size:21px;line-height:21px;color:#26409A;font-weight:700;letter-spacing:0.606px;">34984819485</div>
<div class="t" style="left:243.00px;top:1046.16px;font-size:18px;line-height:18px;color:#5b5b5b;letter-spacing:-0.098px;">04 April 2025: 03:15pm</div>
<div class="t" style="left:243.00px;top:1081.37px;font-size:20px;line-height:20px;color:#585858;-webkit-text-stroke:0.55px #585858;letter-spacing:0.491px;">Custom</div>
<div class="t" style="left:467.30px;top:1008.90px;font-size:20.2px;line-height:20.2px;color:#5b5b5b;"><span class="rupee">₹</span>899</div>
<div class="box" style="left:460.6px;top:1043.8px;width:61.3px;height:31px;background:#f5f5f6;border-radius:6px"></div>
<div class="t" style="left:468.40px;top:1049.84px;font-size:19.8px;line-height:19.8px;color:#26409A;font-weight:700;letter-spacing:0.022px;">COD</div>
<div class="t" style="left:611.00px;top:1009.10px;font-size:20.2px;line-height:20.2px;color:#5b5b5b;letter-spacing:0.416px;">Apple 2024 MacBook Air</div>
<div class="t" style="left:611.00px;top:1034.80px;font-size:20.2px;line-height:20.2px;color:#5b5b5b;letter-spacing:0.114px;">15″ Laptop with M3 chip: 38</div>
<svg style="position:absolute;left:872px;top:1028px" width="23" height="20" viewBox="872 1028 23 20"><ellipse cx="883.4" cy="1037.9" rx="8.45" ry="6.85" fill="none" stroke="#26409A" stroke-width="1.7"/><circle cx="883.5" cy="1037.9" r="3.0" fill="none" stroke="#26409A" stroke-width="1.7"/></svg>
<div class="t" style="left:611.00px;top:1073.19px;font-size:17.5px;line-height:17.5px;color:#5b5b5b;letter-spacing:-0.559px;">QTY: 1</div>
<div class="t" style="left:611.00px;top:1108.76px;font-size:18px;line-height:18px;color:#5b5b5b;letter-spacing:-0.263px;">SKU: JZJJ1741237</div>
<div class="t" style="left:930.00px;top:1009.70px;font-size:20.2px;line-height:20.2px;color:#5b5b5b;letter-spacing:0.024px;">Dead wt. : 0.5 Kg</div>
<div class="t" style="left:930.00px;top:1042.89px;font-size:19.5px;line-height:19.5px;color:#5b5b5b;letter-spacing:-0.348px;">10 x 10 x 10 (cm)</div>
<div class="t" style="left:930.00px;top:1075.40px;font-size:20.2px;line-height:20.2px;color:#5b5b5b;letter-spacing:0.122px;">Volumetric wt.:</div>
<div class="t" style="left:930.00px;top:1100.30px;font-size:20.2px;line-height:20.2px;color:#5b5b5b;letter-spacing:0.38px;">0.200 Kg</div>
<div class="t" style="left:1140.50px;top:1008.90px;font-size:20.2px;line-height:20.2px;color:#5b5b5b;letter-spacing:0.093px;">Naveen Singh</div>
<div class="t" style="left:1140.50px;top:1046.70px;font-size:20.2px;line-height:20.2px;color:#5b5b5b;letter-spacing:0.832px;">9238328328</div>
<div class="t" style="left:1140.50px;top:1083.90px;font-size:20.2px;line-height:20.2px;color:#5b5b5b;letter-spacing:-0.06px;">naveen.singh@gmail.com</div>
<div class="t" style="left:1407.00px;top:1009.70px;font-size:20.2px;line-height:20.2px;color:#5b5b5b;letter-spacing:0.014px;">12/24 Indrapuram</div>
<div class="t" style="left:1407.00px;top:1033.90px;font-size:20.2px;line-height:20.2px;color:#5b5b5b;letter-spacing:0.028px;">Ghaziabad</div>
<div class="t" style="left:1617.60px;top:1009.70px;font-size:20.2px;line-height:20.2px;color:#5b5b5b;letter-spacing:0.014px;">12/24 Indrapuram</div>
<div class="t" style="left:1617.60px;top:1033.90px;font-size:20.2px;line-height:20.2px;color:#5b5b5b;letter-spacing:0.028px;">Ghaziabad</div>
<div class="box" style="left:1844.5px;top:1006.8px;width:85px;height:26.2px;background:#FEEEDC;border-radius:5px"></div>
<div class="t" style="left:1854.00px;top:1011.16px;font-size:18px;line-height:18px;color:#E8692B;-webkit-text-stroke:0.3px #E8692B;letter-spacing:-0.187px;">Pending</div>
<div class="box" style="left:1833px;top:1048.4px;width:107.6px;height:42px;background:#263F96;border-radius:6px"></div>
<div class="t" style="left:1848.00px;top:1060.76px;font-size:18px;line-height:18px;color:#ffffff;-webkit-text-stroke:0.5px #ffffff;letter-spacing:-0.096px;">Ship Now</div>
<svg style="position:absolute;left:1976px;top:1005.5px" width="38" height="38" viewBox="1976 1005.5 38 38"><circle cx="1995.1" cy="1024.5" r="17.9" fill="#DFE4F6"/><circle cx="1994.9" cy="1017.6" r="2.4" fill="#26409A"/><circle cx="1994.9" cy="1024.5" r="2.4" fill="#26409A"/><circle cx="1994.9" cy="1031.3" r="2.4" fill="#26409A"/></svg>
<div class="box" style="left:172px;top:1147.3px;width:1937px;height:1.5px;background:#eaeaea"></div>
<div class="box" style="left:188px;top:1172px;width:20px;height:20px;border:1.3px solid #d2d2d2;border-radius:3px;background:#fff"></div>
<div class="t" style="left:243.00px;top:1173.42px;font-size:21px;line-height:21px;color:#26409A;font-weight:700;letter-spacing:0.606px;">34984819485</div>
<div class="t" style="left:243.00px;top:1211.16px;font-size:18px;line-height:18px;color:#5b5b5b;letter-spacing:-0.098px;">04 April 2025: 03:15pm</div>
<div class="t" style="left:243.00px;top:1246.37px;font-size:20px;line-height:20px;color:#585858;-webkit-text-stroke:0.55px #585858;letter-spacing:0.491px;">Custom</div>
<div class="t" style="left:467.30px;top:1173.90px;font-size:20.2px;line-height:20.2px;color:#5b5b5b;"><span class="rupee">₹</span>899</div>
<div class="box" style="left:460.6px;top:1208.8px;width:61.3px;height:31px;background:#f5f5f6;border-radius:6px"></div>
<div class="t" style="left:468.40px;top:1214.84px;font-size:19.8px;line-height:19.8px;color:#26409A;font-weight:700;letter-spacing:0.022px;">COD</div>
<div class="t" style="left:611.00px;top:1174.10px;font-size:20.2px;line-height:20.2px;color:#5b5b5b;letter-spacing:0.416px;">Apple 2024 MacBook Air</div>
<div class="t" style="left:611.00px;top:1199.80px;font-size:20.2px;line-height:20.2px;color:#5b5b5b;letter-spacing:0.114px;">15″ Laptop with M3 chip: 38</div>
<svg style="position:absolute;left:872px;top:1193px" width="23" height="20" viewBox="872 1193 23 20"><ellipse cx="883.4" cy="1202.9" rx="8.45" ry="6.85" fill="none" stroke="#26409A" stroke-width="1.7"/><circle cx="883.5" cy="1202.9" r="3.0" fill="none" stroke="#26409A" stroke-width="1.7"/></svg>
<div class="t" style="left:611.00px;top:1238.19px;font-size:17.5px;line-height:17.5px;color:#5b5b5b;letter-spacing:-0.559px;">QTY: 1</div>
<div class="t" style="left:611.00px;top:1273.76px;font-size:18px;line-height:18px;color:#5b5b5b;letter-spacing:-0.263px;">SKU: JZJJ1741237</div>
<div class="t" style="left:930.00px;top:1174.70px;font-size:20.2px;line-height:20.2px;color:#5b5b5b;letter-spacing:0.024px;">Dead wt. : 0.5 Kg</div>
<div class="t" style="left:930.00px;top:1207.89px;font-size:19.5px;line-height:19.5px;color:#5b5b5b;letter-spacing:-0.348px;">10 x 10 x 10 (cm)</div>
<div class="t" style="left:930.00px;top:1240.40px;font-size:20.2px;line-height:20.2px;color:#5b5b5b;letter-spacing:0.122px;">Volumetric wt.:</div>
<div class="t" style="left:930.00px;top:1265.30px;font-size:20.2px;line-height:20.2px;color:#5b5b5b;letter-spacing:0.38px;">0.200 Kg</div>
<div class="t" style="left:1140.50px;top:1173.90px;font-size:20.2px;line-height:20.2px;color:#5b5b5b;letter-spacing:0.093px;">Naveen Singh</div>
<div class="t" style="left:1140.50px;top:1211.70px;font-size:20.2px;line-height:20.2px;color:#5b5b5b;letter-spacing:0.832px;">9238328328</div>
<div class="t" style="left:1140.50px;top:1248.90px;font-size:20.2px;line-height:20.2px;color:#5b5b5b;letter-spacing:-0.06px;">naveen.singh@gmail.com</div>
<div class="t" style="left:1407.00px;top:1174.70px;font-size:20.2px;line-height:20.2px;color:#5b5b5b;letter-spacing:0.014px;">12/24 Indrapuram</div>
<div class="t" style="left:1407.00px;top:1198.90px;font-size:20.2px;line-height:20.2px;color:#5b5b5b;letter-spacing:0.028px;">Ghaziabad</div>
<div class="t" style="left:1617.60px;top:1174.70px;font-size:20.2px;line-height:20.2px;color:#5b5b5b;letter-spacing:0.014px;">12/24 Indrapuram</div>
<div class="t" style="left:1617.60px;top:1198.90px;font-size:20.2px;line-height:20.2px;color:#5b5b5b;letter-spacing:0.028px;">Ghaziabad</div>
<div class="box" style="left:1844.5px;top:1171.8px;width:85px;height:26.2px;background:#FEEEDC;border-radius:5px"></div>
<div class="t" style="left:1854.00px;top:1176.16px;font-size:18px;line-height:18px;color:#E8692B;-webkit-text-stroke:0.3px #E8692B;letter-spacing:-0.187px;">Pending</div>
<div class="box" style="left:1833px;top:1213.4px;width:107.6px;height:42px;background:#263F96;border-radius:6px"></div>
<div class="t" style="left:1848.00px;top:1225.76px;font-size:18px;line-height:18px;color:#ffffff;-webkit-text-stroke:0.5px #ffffff;letter-spacing:-0.096px;">Ship Now</div>
<svg style="position:absolute;left:1976px;top:1170.5px" width="38" height="38" viewBox="1976 1170.5 38 38"><circle cx="1995.1" cy="1189.5" r="17.9" fill="#DFE4F6"/><circle cx="1994.9" cy="1182.6" r="2.4" fill="#26409A"/><circle cx="1994.9" cy="1189.5" r="2.4" fill="#26409A"/><circle cx="1994.9" cy="1196.3" r="2.4" fill="#26409A"/></svg>
<div class="box" style="left:172px;top:1312.3px;width:1937px;height:1.5px;background:#eaeaea"></div>
<div class="box" style="left:188px;top:1337px;width:20px;height:20px;border:1.3px solid #d2d2d2;border-radius:3px;background:#fff"></div>
<div class="t" style="left:243.00px;top:1338.42px;font-size:21px;line-height:21px;color:#26409A;font-weight:700;letter-spacing:0.606px;">34984819485</div>
<div class="t" style="left:243.00px;top:1376.16px;font-size:18px;line-height:18px;color:#5b5b5b;letter-spacing:-0.098px;">04 April 2025: 03:15pm</div>
<div class="t" style="left:243.00px;top:1411.37px;font-size:20px;line-height:20px;color:#585858;-webkit-text-stroke:0.55px #585858;letter-spacing:0.491px;">Custom</div>
<div class="t" style="left:467.30px;top:1338.90px;font-size:20.2px;line-height:20.2px;color:#5b5b5b;"><span class="rupee">₹</span>899</div>
<div class="box" style="left:460.6px;top:1373.8px;width:61.3px;height:31px;background:#f5f5f6;border-radius:6px"></div>
<div class="t" style="left:468.40px;top:1379.84px;font-size:19.8px;line-height:19.8px;color:#26409A;font-weight:700;letter-spacing:0.022px;">COD</div>
<div class="t" style="left:611.00px;top:1339.10px;font-size:20.2px;line-height:20.2px;color:#5b5b5b;letter-spacing:0.416px;">Apple 2024 MacBook Air</div>
<div class="t" style="left:611.00px;top:1364.80px;font-size:20.2px;line-height:20.2px;color:#5b5b5b;letter-spacing:0.114px;">15″ Laptop with M3 chip: 38</div>
<svg style="position:absolute;left:872px;top:1358px" width="23" height="20" viewBox="872 1358 23 20"><ellipse cx="883.4" cy="1367.9" rx="8.45" ry="6.85" fill="none" stroke="#26409A" stroke-width="1.7"/><circle cx="883.5" cy="1367.9" r="3.0" fill="none" stroke="#26409A" stroke-width="1.7"/></svg>
<div class="t" style="left:611.00px;top:1403.19px;font-size:17.5px;line-height:17.5px;color:#5b5b5b;letter-spacing:-0.559px;">QTY: 1</div>
<div class="t" style="left:611.00px;top:1438.76px;font-size:18px;line-height:18px;color:#5b5b5b;letter-spacing:-0.263px;">SKU: JZJJ1741237</div>
<div class="t" style="left:930.00px;top:1339.70px;font-size:20.2px;line-height:20.2px;color:#5b5b5b;letter-spacing:0.024px;">Dead wt. : 0.5 Kg</div>
<div class="t" style="left:930.00px;top:1372.89px;font-size:19.5px;line-height:19.5px;color:#5b5b5b;letter-spacing:-0.348px;">10 x 10 x 10 (cm)</div>
<div class="t" style="left:930.00px;top:1405.40px;font-size:20.2px;line-height:20.2px;color:#5b5b5b;letter-spacing:0.122px;">Volumetric wt.:</div>
<div class="t" style="left:930.00px;top:1430.30px;font-size:20.2px;line-height:20.2px;color:#5b5b5b;letter-spacing:0.38px;">0.200 Kg</div>
<div class="t" style="left:1140.50px;top:1338.90px;font-size:20.2px;line-height:20.2px;color:#5b5b5b;letter-spacing:0.093px;">Naveen Singh</div>
<div class="t" style="left:1140.50px;top:1376.70px;font-size:20.2px;line-height:20.2px;color:#5b5b5b;letter-spacing:0.832px;">9238328328</div>
<div class="t" style="left:1140.50px;top:1413.90px;font-size:20.2px;line-height:20.2px;color:#5b5b5b;letter-spacing:-0.06px;">naveen.singh@gmail.com</div>
<div class="t" style="left:1407.00px;top:1339.70px;font-size:20.2px;line-height:20.2px;color:#5b5b5b;letter-spacing:0.014px;">12/24 Indrapuram</div>
<div class="t" style="left:1407.00px;top:1363.90px;font-size:20.2px;line-height:20.2px;color:#5b5b5b;letter-spacing:0.028px;">Ghaziabad</div>
<div class="t" style="left:1617.60px;top:1339.70px;font-size:20.2px;line-height:20.2px;color:#5b5b5b;letter-spacing:0.014px;">12/24 Indrapuram</div>
<div class="t" style="left:1617.60px;top:1363.90px;font-size:20.2px;line-height:20.2px;color:#5b5b5b;letter-spacing:0.028px;">Ghaziabad</div>
<div class="box" style="left:1844.5px;top:1336.8px;width:85px;height:26.2px;background:#FEEEDC;border-radius:5px"></div>
<div class="t" style="left:1854.00px;top:1341.16px;font-size:18px;line-height:18px;color:#E8692B;-webkit-text-stroke:0.3px #E8692B;letter-spacing:-0.187px;">Pending</div>
<div class="box" style="left:1833px;top:1378.4px;width:107.6px;height:42px;background:#263F96;border-radius:6px"></div>
<div class="t" style="left:1848.00px;top:1390.76px;font-size:18px;line-height:18px;color:#ffffff;-webkit-text-stroke:0.5px #ffffff;letter-spacing:-0.096px;">Ship Now</div>
<svg style="position:absolute;left:1976px;top:1335.5px" width="38" height="38" viewBox="1976 1335.5 38 38"><circle cx="1995.1" cy="1354.5" r="17.9" fill="#DFE4F6"/><circle cx="1994.9" cy="1347.6" r="2.4" fill="#26409A"/><circle cx="1994.9" cy="1354.5" r="2.4" fill="#26409A"/><circle cx="1994.9" cy="1361.3" r="2.4" fill="#26409A"/></svg>
<div class="t" style="left:676.70px;top:1536.58px;font-size:22px;line-height:22px;color:#26409A;-webkit-text-stroke:0.55px #26409A;letter-spacing:0.054px;">Rows per page</div>
<div class="box" style="left:847.8px;top:1524.6px;width:77.4px;height:44px;border:1.5px solid #dcdcdc;border-radius:6px"></div>
<div class="t" style="left:863.00px;top:1536.58px;font-size:22px;line-height:22px;color:#26409A;-webkit-text-stroke:0.55px #26409A;">5</div>
<svg style="position:absolute;left:886px;top:1540px" width="20" height="14" viewBox="886 1540 20 14"><path d="M889,1543.8 H901.5 L895.25,1550.2 Z" fill="#26409A"/></svg>
<svg style="position:absolute;left:1030px;top:1532px" width="24" height="30" viewBox="1030 1532 24 30"><path d="M1046.5,1538.5 L1038,1547 L1046.5,1555.5" fill="none" stroke="#26409A" stroke-width="3.2" stroke-linecap="round" stroke-linejoin="round"/></svg>
<div class="t" style="left:1058.40px;top:1536.58px;font-size:22px;line-height:22px;color:#26409A;-webkit-text-stroke:0.55px #26409A;letter-spacing:0.001px;">Previous</div>
<div class="box" style="left:1168.4px;top:1516.5px;width:60px;height:60px;background:#263F96;border-radius:14px"></div>
<div class="t" style="left:1192.00px;top:1536.58px;font-size:22px;line-height:22px;color:#ffffff;-webkit-text-stroke:0.55px #ffffff;">1</div>
<div class="t" style="left:1245.00px;top:1536.58px;font-size:22px;line-height:22px;color:#26409A;-webkit-text-stroke:0.55px #26409A;">2</div>
<div class="t" style="left:1300.00px;top:1536.58px;font-size:22px;line-height:22px;color:#26409A;-webkit-text-stroke:0.55px #26409A;">3</div>
<div class="t" style="left:1356.00px;top:1536.58px;font-size:22px;line-height:22px;color:#26409A;-webkit-text-stroke:0.55px #26409A;">4</div>
<div class="t" style="left:1413.00px;top:1536.58px;font-size:22px;line-height:22px;color:#26409A;-webkit-text-stroke:0.55px #26409A;letter-spacing:0.473px;">Next</div>
<svg style="position:absolute;left:1468px;top:1532px" width="24" height="30" viewBox="1468 1532 24 30"><path d="M1474.5,1538.5 L1483,1547 L1474.5,1555.5" fill="none" stroke="#26409A" stroke-width="3.2" stroke-linecap="round" stroke-linejoin="round"/></svg>
</div></body></html>
